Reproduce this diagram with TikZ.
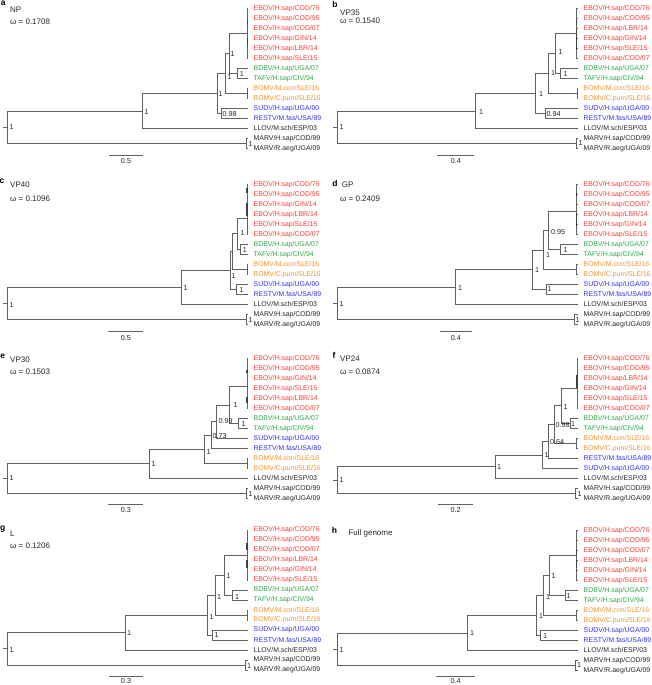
\documentclass[tikz,border=0pt]{standalone}
\usepackage{fontspec}
\setmainfont{Liberation Sans}
\definecolor{ebr}{RGB}{250,62,52}
\definecolor{ebg}{RGB}{46,170,72}
\definecolor{ebo}{RGB}{247,148,40}
\definecolor{ebb}{RGB}{50,50,240}
\colorlet{ebk}{black!85}
\colorlet{brc}{black!62}
\tikzset{
 br/.style={draw=brc, line width=0.6pt},
 thk/.style={draw=black!75, line width=1.3pt},
 leaf/.style={anchor=west, inner xsep=5.5pt, inner ysep=0pt, font=\fontsize{6.9}{8}\selectfont},
 blab/.style={anchor=west, inner sep=0pt, font=\fontsize{7.2}{8}\selectfont, text=black!85},
 ttl/.style={anchor=west, inner sep=0pt, font=\fontsize{8}{9}\selectfont, text=black!85},
 plet/.style={anchor=center, inner sep=0pt, font=\fontsize{8.5}{9}\selectfont\bfseries},
 sclab/.style={anchor=center, inner sep=0pt, font=\fontsize{7.2}{8}\selectfont, text=black!85},
}
\newcommand{\lfnode}[4]{\node[leaf,text=#3] (#1) at (248,#2) {#4};}
\newcommand{\ebovleaves}[7]{%
 \lfnode{#10}{8.3}{ebr}{EBOV/H.sap/#2}%
 \lfnode{#11}{18.3}{ebr}{EBOV/H.sap/#3}%
 \lfnode{#12}{28.3}{ebr}{EBOV/H.sap/#4}%
 \lfnode{#13}{38.3}{ebr}{EBOV/H.sap/#5}%
 \lfnode{#14}{48.3}{ebr}{EBOV/H.sap/#6}%
 \lfnode{#15}{58.3}{ebr}{EBOV/H.sap/#7}}
\newcommand{\outleaves}[1]{%
 \lfnode{#112}{128.3}{ebk}{LLOV/M.sch/ESP/03}%
 \lfnode{#113}{138.3}{ebk}{MARV/H.sap/COD/99}%
 \lfnode{#114}{148.3}{ebk}{MARV/R.aeg/UGA/09}}
\newcommand{\tailleaves}[1]{%
 \lfnode{#16}{68.3}{ebg}{BDBV/H.sap/UGA/07}%
 \lfnode{#17}{78.3}{ebg}{TAFV/H.sap/CIV/94}%
 \lfnode{#18}{88.3}{ebo}{BOMV/M.con/SLE/16}%
 \lfnode{#19}{98.3}{ebo}{BOMV/C.pum/SLE/16}%
 \lfnode{#110}{108.3}{ebb}{SUDV/H.sap/UGA/00}%
 \lfnode{#111}{118.3}{ebb}{RESTV/M.fas/USA/89}%
 \outleaves{#1}}
\newcommand{\commonedges}[1]{%
 \draw[br] (#1Rt) -- (#1R);
 \draw[br] (#1R) |- (#1A); \draw[br] (#1R) |- (#1M);
 \draw[br] (#1A) |- (#112.west);
 \draw[br] (#1N2) |- (#1E); \draw[br] (#1N2) |- (#1BT);
 \foreach \k in {0,...,5} {\draw[br] (#1E) |- (#1\k.west);}
 \draw[br] (#1BT) |- (#16.west); \draw[br] (#1BT) |- (#17.west);
 \draw[br] (#1M) |- (#113.west); \draw[br] (#1M) |- (#114.west);}
\newcommand{\stdedges}[1]{%
 \commonedges{#1}%
 \draw[br] (#1A) |- (#1N0);
 \draw[br] (#1N0) |- (#1N1); \draw[br] (#1N0) |- (#1SR);
 \draw[br] (#1N1) |- (#1N2); \draw[br] (#1N1) |- (#1BO);
 \draw[br] (#1BO) |- (#18.west); \draw[br] (#1BO) |- (#19.west);
 \draw[br] (#1SR) |- (#110.west); \draw[br] (#1SR) |- (#111.west);}
\newcommand{\bsv}[4]{\node[blab] (#1) at (#2,#3) {#4};}
\begin{document}
\begin{tikzpicture}[x=1pt,y=-1pt]
\useasboundingbox (0,0) rectangle (652,685);
% ---------------- a: NP
\begin{scope}
\node[plet] (aP) at (3.3,3.2) {a};
\node[ttl] (aH1) at (10,9.5) {NP};
\node[ttl] (aH2) at (10,21.5) {ω = 0.1708};
\ebovleaves{a}{COD/76}{COD/95}{COD/07}{GIN/14}{LBR/14}{SLE/15}
\tailleaves{a}
\coordinate (aRt) at (3.3,127.05); \coordinate (aR) at (7.3,127.05);
\coordinate (aA) at (142.7,110.8); \coordinate (aM) at (246.7,143.3);
\coordinate (aN0) at (217.3,93.3); \coordinate (aSR) at (221.7,113.3);
\coordinate (aN1) at (225,73.3); \coordinate (aBO) at (247,93.3);
\coordinate (aN2) at (229.3,53.3); \coordinate (aBT) at (237.3,73.3);
\coordinate (aE) at (247.3,33.3);
\stdedges{a}
\draw[thk] (247.3,20) -- (247.3,25); \draw[thk] (247.3,38) -- (247.3,45);
\bsv{aL2}{230.5}{54}{1} \bsv{aL1}{227.5}{77.5}{1} \bsv{aLbt}{239.7}{74}{1}
\bsv{aL0}{218.5}{94.5}{1} \bsv{aLsr}{222.5}{114.3}{0.98} \bsv{aLa}{144.5}{111.7}{1}
\bsv{aLr}{9.5}{127.5}{1} \bsv{aLm}{248.3}{144.3}{1}
\coordinate (aS1) at (109.3,155); \coordinate (aS2) at (142.7,155);
\draw[br] (aS1) -- (aS2); \node[sclab] (aSL) at (126,161.5) {0.5};
\end{scope}
% ---------------- b: VP35
\begin{scope}[shift={(330,0)}]
\node[plet] (bP) at (5,4.2) {b};
\node[ttl] (bH1) at (10,13) {VP35};
\node[ttl] (bH2) at (10,20.7) {ω = 0.1540};
\ebovleaves{b}{COD/76}{COD/95}{LBR/14}{GIN/14}{SLE/15}{COD/07}
\tailleaves{b}
\coordinate (bRt) at (3.3,127.05); \coordinate (bR) at (7.3,127.05);
\coordinate (bA) at (145.7,110.8); \coordinate (bM) at (246.7,143.3);
\coordinate (bN0) at (205.7,93.3); \coordinate (bSR) at (215,113.3);
\coordinate (bN1) at (218.3,73.3); \coordinate (bBO) at (247.3,93.3);
\coordinate (bN2) at (225.7,53.3); \coordinate (bBT) at (230.7,73.3);
\coordinate (bE) at (246.7,33.3);
\stdedges{b}
\draw[thk] (246.7,20) -- (246.7,25); \draw[thk] (246.7,30) -- (246.7,50);
\bsv{bL2}{228.5}{52}{1} \bsv{bL1}{221}{73}{1} \bsv{bLbt}{233.5}{74}{1}
\bsv{bL0}{209}{94.5}{1} \bsv{bLsr}{216.5}{114.5}{0.94} \bsv{bLa}{149}{112.3}{1}
\bsv{bLr}{9.5}{127.5}{1} \bsv{bLm}{248.3}{143.5}{1}
\coordinate (bS1) at (107.3,155); \coordinate (bS2) at (144.3,155);
\draw[br] (bS1) -- (bS2); \node[sclab] (bSL) at (125.8,161.5) {0.4};
\end{scope}
% ---------------- c: VP40
\begin{scope}[shift={(0,176)}]
\node[plet] (cP) at (1.9,5.7) {c};
\node[ttl] (cH1) at (10,8.5) {VP40};
\node[ttl] (cH2) at (10,22.5) {ω = 0.1096};
\ebovleaves{c}{COD/76}{COD/95}{GIN/14}{LBR/14}{SLE/15}{COD/07}
\tailleaves{c}
\coordinate (cRt) at (3.3,127.32); \coordinate (cR) at (7.3,127.32);
\coordinate (cA) at (181,111.34); \coordinate (cM) at (246.7,143.3);
\coordinate (cN0) at (230,94.39); \coordinate (cSR) at (236,113.3);
\coordinate (cN1) at (232,75.48); \coordinate (cBO) at (247,93.3);
\coordinate (cN2) at (237.3,57.65); \coordinate (cBT) at (240.7,73.3);
\coordinate (cE) at (247,42);
\stdedges{c}
\draw[thk] (247,12) -- (247,17); \draw[thk] (247,27) -- (247,40);
\bsv{cL2}{240.5}{57}{1} \bsv{cLbt}{242.7}{74}{1}
\bsv{cL0}{231.5}{100}{1} \bsv{cLsr}{239.5}{114}{1} \bsv{cLa}{183.5}{111.7}{1}
\bsv{cLr}{9.5}{129}{1} \bsv{cLm}{248.3}{144.5}{1}
\coordinate (cS1) at (108.3,155.7); \coordinate (cS2) at (143.3,155.7);
\draw[br] (cS1) -- (cS2); \node[sclab] (cSL) at (125.8,162.2) {0.5};
\end{scope}
% ---------------- d: GP
\begin{scope}[shift={(330,176)}]
\node[plet] (dP) at (5,7) {d};
\node[ttl] (dH1) at (11.7,9) {GP};
\node[ttl] (dH2) at (10,22.3) {ω = 0.2409};
\ebovleaves{d}{COD/76}{COD/95}{COD/07}{LBR/14}{GIN/14}{SLE/15}
\tailleaves{d}
\coordinate (dRt) at (3.3,127.12); \coordinate (dR) at (7.3,127.12);
\coordinate (dA) at (125,110.94); \coordinate (dM) at (244,143.3);
\coordinate (dN0) at (202.3,93.58); \coordinate (dSR) at (216,113.3);
\coordinate (dN1) at (213.3,73.85); \coordinate (dBO) at (246.7,93.3);
\coordinate (dN2) at (218.3,54.4); \coordinate (dBT) at (230.7,73.3);
\coordinate (dE) at (246.7,35.5);
\stdedges{d}
\draw[thk] (246.7,15.7) -- (246.7,20.7); \draw[thk] (246.7,37) -- (246.7,50.7);
\bsv{dL2}{221}{55.7}{0.95} \bsv{dLbt}{233.5}{74}{1} \bsv{dL1}{216}{79}{1}
\bsv{dL0}{205}{94}{1} \bsv{dLsr}{217.5}{113.5}{1} \bsv{dLa}{128}{111.7}{1}
\bsv{dLr}{9.5}{128.3}{1} \bsv{dLm}{245.5}{144}{1}
\coordinate (dS1) at (110,155.7); \coordinate (dS2) at (141.7,155.7);
\draw[br] (dS1) -- (dS2); \node[sclab] (dSL) at (125.8,162.2) {0.4};
\end{scope}
% ---------------- e: VP30
\begin{scope}[shift={(0,350)}]
\node[plet] (eP) at (2.7,6.7) {e};
\node[ttl] (eH1) at (10,9.3) {VP30};
\node[ttl] (eH2) at (10,21.7) {ω = 0.1503};
\ebovleaves{e}{COD/76}{COD/95}{GIN/14}{SLE/15}{LBR/14}{COD/07}
\lfnode{e6}{68.3}{ebg}{BDBV/H.sap/UGA/07}
\lfnode{e7}{78.3}{ebg}{TAFV/H.sap/CIV/94}
\lfnode{e8}{88.3}{ebb}{SUDV/H.sap/UGA/00}
\lfnode{e9}{98.3}{ebb}{RESTV/M.fas/USA/89}
\lfnode{e10}{108.3}{ebo}{BOMV/M.con/SLE/16}
\lfnode{e11}{118.3}{ebo}{BOMV/C.pum/SLE/16}
\outleaves{e}
\coordinate (eRt) at (3.3,128.51); \coordinate (eR) at (7.3,128.51);
\coordinate (eA) at (149.3,113.72); \coordinate (eM) at (246.7,143.3);
\coordinate (eN5) at (204,99.14); \coordinate (eBO) at (247,113.3);
\coordinate (eN4) at (211,84.98); \coordinate (eN3) at (216.7,71.65);
\coordinate (eN2) at (229.3,55); \coordinate (eBT) at (238.3,73.3);
\coordinate (eE) at (247,36.7);
\commonedges{e}
\draw[br] (eA) |- (eN5); \draw[br] (eN5) |- (eN4); \draw[br] (eN5) |- (eBO);
\draw[br] (eN4) |- (eN3); \draw[br] (eN4) |- (e9.west);
\draw[br] (eN3) |- (eN2); \draw[br] (eN3) |- (e8.west);
\draw[br] (eBO) |- (e10.west); \draw[br] (eBO) |- (e11.west);
\draw[thk] (247,20) -- (247,23); \draw[thk] (247,46.7) -- (247,53.3);
\bsv{eL2}{233.3}{55}{1} \bsv{eL3}{218.3}{70.7}{0.99} \bsv{eLbt}{241.5}{74}{1}
\bsv{eL4}{212.3}{85.7}{0.73} \bsv{eL5}{206.5}{101.7}{1} \bsv{eLa}{151.5}{114}{1}
\bsv{eLr}{9.5}{128.5}{1} \bsv{eLm}{248.3}{144.3}{1}
\coordinate (eS1) at (108.3,154); \coordinate (eS2) at (143.3,154);
\draw[br] (eS1) -- (eS2); \node[sclab] (eSL) at (125.8,160.5) {0.3};
\end{scope}
% ---------------- f: VP24
\begin{scope}[shift={(330,350)}]
\node[plet] (fP) at (4,5.3) {f};
\node[ttl] (fH1) at (10,8.3) {VP24};
\node[ttl] (fH2) at (10,21.7) {ω = 0.0874};
\ebovleaves{f}{COD/76}{COD/95}{LBR/14}{GIN/14}{SLE/15}{COD/07}
\lfnode{f6}{68.3}{ebg}{BDBV/H.sap/UGA/07}
\lfnode{f7}{78.3}{ebg}{TAFV/H.sap/CIV/94}
\lfnode{f8}{88.3}{ebo}{BOMV/M.con/SLE/16}
\lfnode{f9}{98.3}{ebo}{BOMV/C.pum/SLE/16}
\lfnode{f10}{108.3}{ebb}{RESTV/M.fas/USA/89}
\lfnode{f11}{118.3}{ebb}{SUDV/H.sap/UGA/00}
\outleaves{f}
\coordinate (fRt) at (3.3,129.94); \coordinate (fR) at (7.3,129.94);
\coordinate (fA) at (165.7,116.57); \coordinate (fM) at (245.7,143.3);
\coordinate (fN5) at (212.3,104.84); \coordinate (fN4) at (218.3,91.39);
\coordinate (fN3) at (224,74.48); \coordinate (fBO) at (246.7,93.3);
\coordinate (fN2) at (231.7,55.65); \coordinate (fBT) at (240,73.3);
\coordinate (fE) at (247,38);
\commonedges{f}
\draw[br] (fA) |- (fN5); \draw[br] (fN5) |- (fN4); \draw[br] (fN5) |- (f11.west);
\draw[br] (fN4) |- (fN3); \draw[br] (fN4) |- (f10.west);
\draw[br] (fN3) |- (fN2); \draw[br] (fN3) |- (fBO);
\draw[br] (fBO) |- (f8.west); \draw[br] (fBO) |- (f9.west);
\draw[thk] (247,25) -- (247,38);
\bsv{fL2}{233.3}{57.3}{1} \bsv{fL3}{225.3}{75}{0.98} \bsv{fLbt}{240.8}{74}{1}
\bsv{fL4}{220}{91.7}{0.64} \bsv{fL5}{214.5}{105}{1} \bsv{fLa}{167}{116.7}{1}
\bsv{fLr}{9.5}{130}{1} \bsv{fLm}{247.5}{144.5}{1}
\coordinate (fS1) at (108.3,154); \coordinate (fS2) at (142.7,154);
\draw[br] (fS1) -- (fS2); \node[sclab] (fSL) at (125.5,160.5) {0.2};
\end{scope}
% ---------------- g: L
\begin{scope}[shift={(0,521.7)}]
\node[plet] (gP) at (2.7,7.6) {g};
\node[ttl] (gH1) at (10,11.7) {L};
\node[ttl] (gH2) at (10,24.3) {ω = 0.1206};
\ebovleaves{g}{COD/76}{COD/95}{COD/07}{LBR/14}{GIN/14}{SLE/15}
\tailleaves{g}
\coordinate (gRt) at (3.3,127.05); \coordinate (gR) at (7.3,127.05);
\coordinate (gA) at (125,110.8); \coordinate (gM) at (245.7,143.3);
\coordinate (gN0) at (207.3,93.3); \coordinate (gSR) at (212.3,113.3);
\coordinate (gN1) at (215,73.3); \coordinate (gBO) at (247,93.3);
\coordinate (gN2) at (224,53.3); \coordinate (gBT) at (232.7,73.3);
\coordinate (gE) at (247,33.3);
\stdedges{g}
\draw[thk] (247,21.7) -- (247,28.3); \draw[thk] (247,38.3) -- (247,46.7);
\bsv{gL2}{226.5}{54.3}{1} \bsv{gLbt}{235}{75}{1} \bsv{gL1}{217}{75}{1}
\bsv{gL0}{209.5}{95}{1} \bsv{gLsr}{214.5}{113.5}{1} \bsv{gLa}{127}{111.7}{1}
\bsv{gLr}{9.5}{128.3}{1} \bsv{gLm}{247}{144}{1}
\coordinate (gS1) at (109.3,154.2); \coordinate (gS2) at (142.7,154.2);
\draw[br] (gS1) -- (gS2); \node[sclab] (gSL) at (126,159.3) {0.3};
\end{scope}
% ---------------- h: Full genome
\begin{scope}[shift={(330,522)}]
\node[plet] (hP) at (4.5,8.8) {h};
\node[ttl] (hH1) at (18.3,11.3) {Full genome};
\ebovleaves{h}{COD/76}{COD/95}{COD/07}{LBR/14}{GIN/14}{SLE/15}
\tailleaves{h}
\coordinate (hRt) at (3.3,127.05); \coordinate (hR) at (7.3,127.05);
\coordinate (hA) at (137.7,110.8); \coordinate (hM) at (245.7,143.3);
\coordinate (hN0) at (206.7,93.3); \coordinate (hSR) at (210.7,113.3);
\coordinate (hN1) at (213.3,73.3); \coordinate (hBO) at (246.7,93.3);
\coordinate (hN2) at (219.3,53.3); \coordinate (hBT) at (235,73.3);
\coordinate (hE) at (246.7,33.3);
\stdedges{h}
\draw[thk] (246.7,28) -- (246.7,33); \draw[thk] (246.7,38) -- (246.7,46);
\bsv{hL2}{221.5}{54}{1} \bsv{hL1}{216}{74.7}{1} \bsv{hLbt}{236.5}{74}{1}
\bsv{hL0}{209}{94}{1} \bsv{hLsr}{213}{114}{1} \bsv{hLa}{140}{111.3}{1}
\bsv{hLr}{9.5}{128}{1} \bsv{hLm}{247}{143}{1}
\coordinate (hS1) at (106,154.2); \coordinate (hS2) at (145,154.2);
\draw[br] (hS1) -- (hS2); \node[sclab] (hSL) at (125.5,159) {0.4};
\end{scope}
\end{tikzpicture}
\end{document}
